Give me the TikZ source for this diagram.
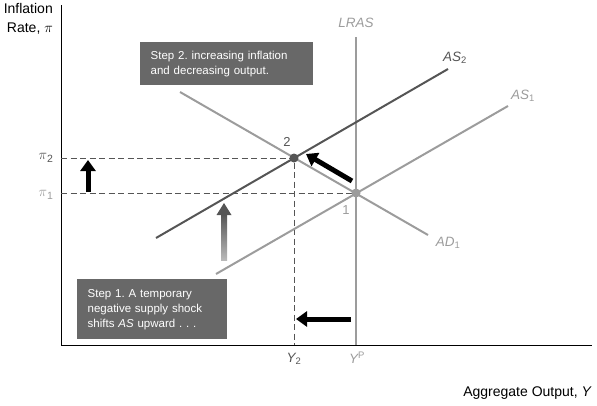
\documentclass[tikz,border=0pt]{standalone}
\usepackage{fontspec}
\setmainfont{Liberation Sans}
\usetikzlibrary{arrows.meta}
\definecolor{curvegray}{HTML}{9C9C9C}
\definecolor{darkcurve}{HTML}{555555}
\definecolor{boxgray}{HTML}{686868}
\frenchspacing

\begin{document}
\begin{tikzpicture}[x=1pt, y=-1pt,
		curve/.style={line width=2pt},
		guide/.style={darkcurve, line width=0.7pt, dash pattern=on 6pt off 3.5pt},
		bigarrow/.style={line width=5pt, -{Triangle[length=11pt, width=15pt]}},
		stepbox/.style={fill=boxgray, text=white, anchor=north west, align=left, inner xsep=10.5pt, font=\fontsize{11.5}{15}\selectfont},
		lab/.style={font=\fontsize{13.5}{15}\selectfont\itshape}]
			\useasboundingbox (0,0) rectangle (597,405);
			% axes
			\coordinate (ytop) at (61,5);
			\coordinate (xend) at (592,345);
			\draw[line width=1pt] (ytop) |- (xend);
			\node[anchor=north east, align=right, inner sep=1pt, font=\fontsize{14}{19}\selectfont] (ylab) at (54,2) {Inflation\\Rate, $\pi$};
			\node[anchor=east, inner sep=1pt, font=\fontsize{14}{16}\selectfont] (xlab) at (593,393) {Aggregate Output, \textit{Y}};
			% curves
			\coordinate (lrasT) at (356,37);
			\coordinate (lrasB) at (356,345);
			\coordinate (as1L) at (216,274);
			\coordinate (as1R) at (508,106);
			\coordinate (as2L) at (156,238);
			\coordinate (as2R) at (448,69);
			\coordinate (adL) at (180,92);
			\coordinate (adR) at (428,235);
			\coordinate (pt1) at (356,193);
			\coordinate (pt2) at (294,158);
			% dashed guides
			\draw[guide] (61,158) -- (pt2) -- (294,345);
			\draw[guide] (61,193) -- (pt1);
			\draw[curve, curvegray] (lrasT) -- (lrasB);
			\draw[curve, curvegray] (adL) -- (adR);
			\draw[curve, curvegray] (as1L) -- (as1R);
			\draw[curve, darkcurve] (as2L) -- (as2R);
			\fill[curvegray] (pt1) circle (4.5);
			\fill[darkcurve] (pt2) circle (4.5);
			% labels
			\node[lab, curvegray] (lras) at (356,23) {LRAS};
			\node[lab, darkcurve] (as2) at (455,58) {AS\textsubscript{\upshape 2}};
			\node[lab, curvegray] (as1) at (523,96) {AS\textsubscript{\upshape 1}};
			\node[lab, curvegray] (ad1) at (448,243) {AD\textsubscript{\upshape 1}};
			\node[darkcurve, font=\fontsize{13}{14}\selectfont] (n2) at (287,142) {2};
			\node[curvegray, font=\fontsize{13}{14}\selectfont] (n1) at (346,210) {1};
			\node[darkcurve, font=\fontsize{15}{16}\selectfont] (pi2) at (46,158) {$\pi$\textsubscript{2}};
			\node[curvegray, font=\fontsize{15}{16}\selectfont] (pi1) at (46,195) {$\pi$\textsubscript{1}};
			\node[lab, darkcurve] (y2) at (294,359) {Y\textsubscript{\upshape 2}};
			\node[lab, curvegray] (yp) at (357,358) {Y\textsuperscript{\upshape P}};
			% shift arrows
			\draw[bigarrow] (88,192) -- (88,160);
			\draw[bigarrow] (352,181) -- (306,154);
			\draw[bigarrow] (351,319) -- (296,319);
			\shade[bottom color=gray!55, top color=darkcurve] (221,260) rectangle (227,214);
			\fill[darkcurve] (216.5,215) -- (231.5,215) -- (224,203) -- cycle;
			% step boxes
			\node[stepbox, text width=152pt, minimum height=43pt] (step2) at (140,42) {Step 2. increasing inflation\\and decreasing output.};
			\node[stepbox, text width=129pt, minimum height=60pt] (step1) at (77,279) {Step 1. A temporary\\negative supply shock\\shifts \textit{AS} upward . . .};
		\end{tikzpicture}
\end{document}
